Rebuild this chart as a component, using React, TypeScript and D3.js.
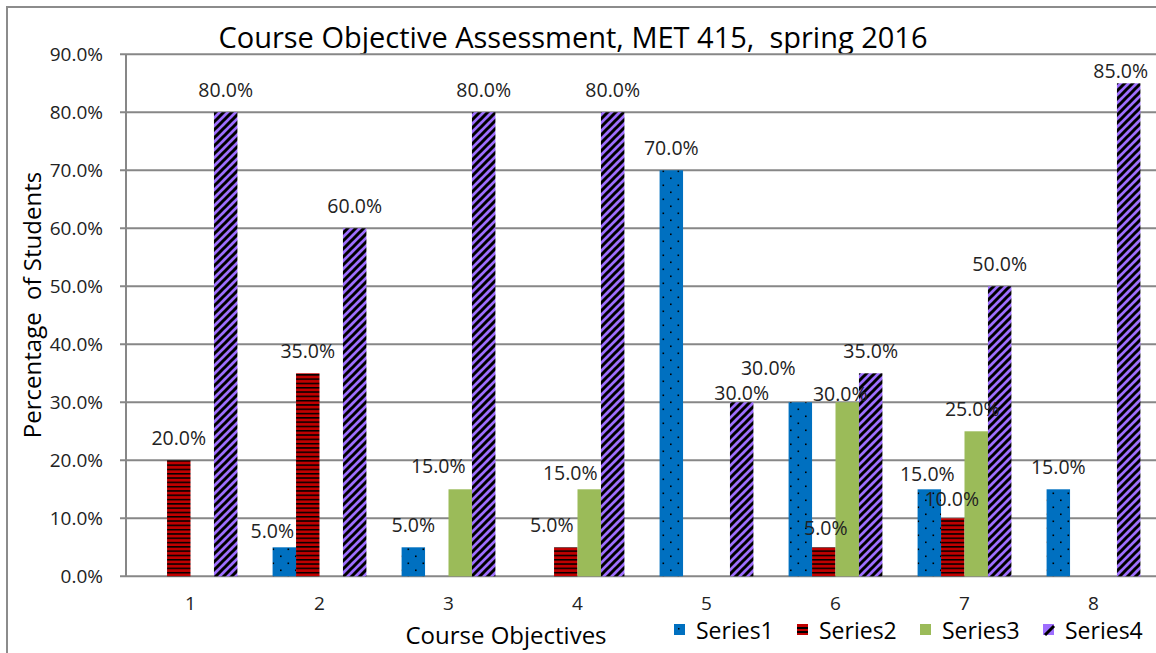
import React from "react";
import * as d3 from "d3";

const categories = ["1", "2", "3", "4", "5", "6", "7", "8"];
const seriesNames = ["Series1", "Series2", "Series3", "Series4"];
const series1 = [0, 5, 5, 0, 70, 30, 15, 15];
const series2 = [20, 35, 0, 5, 0, 5, 10, 0];
const series3 = [0, 0, 15, 15, 0, 30, 25, 0];
const series4 = [80, 60, 80, 80, 30, 35, 50, 85];
const yTicks = [0, 10, 20, 30, 40, 50, 60, 70, 80, 90];

// hand-placed data labels in the original (dx, dy from default spot)
const labelNudge: Record<string, [number, number]> = {
  "0-1": [-12, 6],
  "0-5": [-32, -12],
  "0-6": [-2, 7],
  "1-3": [-14, 0],
  "1-5": [2, 3],
  "1-6": [-1, 3],
  "2-2": [-22, -1],
  "2-3": [-19, 6],
  "2-5": [-7, 14],
  "2-6": [-4, 0],
  "3-4": [0, 13],
  "3-7": [-8, 10],
};

const W = 1156;
const H = 653;
const left = 126;
const right = 1158;
const top = 54.3;
const bottom = 576.3;
const font = "'Open Sans', sans-serif";
const fills = ["url(#pDots)", "url(#pLines)", "#9BBB59", "url(#pDiag)"];
const legendFills = ["#0070C0", "#C00000", "#9BBB59", "#9E6EFF"];

export default function App() {
  const values = [series1, series2, series3, series4];
  const x0 = d3.scaleBand().domain(categories).range([left, right]);
  const bw = x0.bandwidth();
  const barW = bw / 5.5;
  const x1 = d3
    .scaleBand()
    .domain(seriesNames)
    .range([(bw - barW * 4) / 2, (bw + barW * 4) / 2]);
  const y = d3.scaleLinear().domain([0, 90]).range([bottom, top]);

  return (
    <svg
      width={W}
      height={H}
      style={{ position: "absolute", left: 0, top: 0, background: "#fff" }}
      fontFamily={font}
    >
      <defs>
        <pattern id="pDots" width={15} height={14} patternUnits="userSpaceOnUse">
          <rect width={15} height={14} fill="#0070C0" />
          <rect x={2.5} y={2.5} width={1.6} height={1.6} fill="#000" />
          <rect x={10} y={9.5} width={1.6} height={1.6} fill="#000" />
        </pattern>
        <pattern id="pLines" width={4} height={4.3} patternUnits="userSpaceOnUse">
          <rect width={4} height={4.3} fill="#C00000" />
          <rect y={0} width={4} height={1.5} fill="#000" />
        </pattern>
        <pattern id="pDiag" width={8} height={8} patternUnits="userSpaceOnUse">
          <rect width={8} height={8} fill="#9E6EFF" />
          <path d="M-2,2 L2,-2 M0,8 L8,0 M6,10 L10,6" stroke="#000" strokeWidth={3} />
        </pattern>
      </defs>

      <rect x={7} y={7} width={W + 20} height={H + 20} fill="none" stroke="#8c8c8c" strokeWidth={2} />

      <text
        x={573}
        y={36}
        textAnchor="middle"
        dominantBaseline="central"
        fontSize={29}
        fill="#000"
        style={{ whiteSpace: "pre" }}
      >
        Course Objective Assessment, MET 415,  spring 2016
      </text>

      {yTicks.map((t) => (
        <g key={t}>
          <line x1={left - 6} x2={right} y1={y(t)} y2={y(t)} stroke="#878787" strokeWidth={2} />
          <text x={103} y={y(t)} textAnchor="end" dominantBaseline="central" fontSize={19} fill="#222">
            {t.toFixed(1)}%
          </text>
        </g>
      ))}
      <line x1={left} x2={left} y1={top} y2={bottom} stroke="#878787" strokeWidth={2} />

      {values.map((vals, si) =>
        vals.map((v, ci) =>
          v > 0 ? (
            <rect
              key={`b${si}-${ci}`}
              x={x0(categories[ci])! + x1(seriesNames[si])!}
              y={y(v)}
              width={barW}
              height={bottom - y(v)}
              fill={fills[si]}
            />
          ) : null
        )
      )}

      {values.map((vals, si) =>
        vals.map((v, ci) => {
          if (v <= 0) return null;
          const [dx, dy] = labelNudge[`${si}-${ci}`] || [0, 0];
          return (
            <text
              key={`l${si}-${ci}`}
              x={x0(categories[ci])! + x1(seriesNames[si])! + barW / 2 + dx}
              y={y(v) - 23 + dy}
              textAnchor="middle"
              dominantBaseline="central"
              fontSize={19.5}
              fill="#222"
            >
              {v.toFixed(1)}%
            </text>
          );
        })
      )}

      {categories.map((c) => (
        <text
          key={c}
          x={x0(c)! + bw / 2}
          y={603}
          textAnchor="middle"
          dominantBaseline="central"
          fontSize={19}
          fill="#222"
        >
          {c}
        </text>
      ))}

      <text x={506} y={634} textAnchor="middle" dominantBaseline="central" fontSize={24} fill="#000">
        Course Objectives
      </text>
      <text
        transform={`translate(31,305) rotate(-90)`}
        textAnchor="middle"
        dominantBaseline="central"
        fontSize={24}
        fill="#000"
        style={{ whiteSpace: "pre" }}
      >
        Percentage  of Students
      </text>

      {seriesNames.map((s, i) => {
        const lx = 674 + i * 123;
        return (
          <g key={s}>
            <rect x={lx} y={624} width={11} height={11} fill={legendFills[i]} />
            {i === 0 && <rect x={lx + 4} y={628} width={1.5} height={1.5} fill="#000" />}
            {i === 1 && <rect x={lx} y={627} width={11} height={2} fill="#000" />}
            {i === 1 && <rect x={lx} y={631} width={11} height={2} fill="#000" />}
            {i === 3 && <path d={`M${lx + 2},635 L${lx + 11},626`} stroke="#000" strokeWidth={3} />}
            <text x={lx + 22} y={630} dominantBaseline="central" fontSize={23} fill="#000">
              {s}
            </text>
          </g>
        );
      })}
    </svg>
  );
}
